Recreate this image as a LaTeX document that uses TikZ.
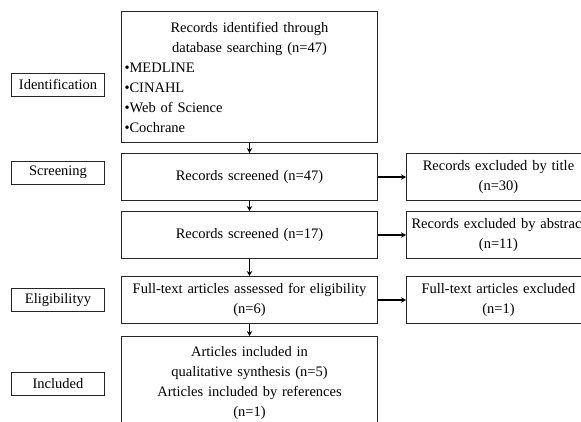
\documentclass[tikz,border=0pt]{standalone}
\usepackage{fontspec}
\setmainfont{Liberation Serif}
\usepackage{tikz}
\usetikzlibrary{arrows.meta, positioning}

\tikzset{
  mainbox/.style={draw=black!85, line width=1pt, text width=250pt, inner xsep=3pt, inner ysep=2pt, minimum height=47pt, align=center, font=\fontsize{14.5}{20}\selectfont},
  sidebox/.style={draw=black!85, line width=1pt, text width=182pt, inner xsep=1pt, inner ysep=2pt, minimum height=47pt, align=center, font=\fontsize{14.5}{20}\selectfont},
  stagebox/.style={draw=black!85, line width=1pt, minimum width=93pt, minimum height=23pt, inner sep=1pt, font=\fontsize{14.5}{16}\selectfont},
  arr/.style={-{Stealth[length=5pt,width=5.5pt]}, line width=1.9pt}
}

\begin{document}
\begin{tikzpicture}[x=1pt, y=1pt, node distance=10pt]
\useasboundingbox (0,0) rectangle (581,-421);

% Main column
\node[mainbox, anchor=north west, minimum height=131pt, align=left] (ident) at (121,-11)
  {{\centering Records identified through\\ database searching (n=47)\par}
   \textbullet MEDLINE\\ \textbullet CINAHL\\ \textbullet Web of Science\\ \textbullet Cochrane};
\node[mainbox, below=10pt of ident] (screen) {Records screened (n=47)};
\node[mainbox, below=10pt of screen] (screenb) {Records screened (n=17)};
\node[mainbox, below=17pt of screenb] (elig) {Full-text articles assessed for eligibility\\ (n=6)};
\node[mainbox, below=12pt of elig, minimum height=94pt] (incl) {Articles included in\\ qualitative synthesis (n=5)\\ Articles included by references\\ (n=1)};

% Exclusions
\node[sidebox, right=28pt of screen] (extitle) {Records excluded by title\\ (n=30)};
\node[sidebox, right=28pt of screenb] (exabs) {Records excluded by abstract\\ (n=11)};
\node[sidebox, right=28pt of elig] (exfull) {Full-text articles excluded\\ (n=1)};

% Stages
\node[stagebox, left=16pt of ident, yshift=-7.5pt] (sident) {Identification};
\node[stagebox, left=16pt of screen, yshift=4.5pt] (sscreen) {Screening};
\node[stagebox, left=16pt of elig] (selig) {Eligibilityy};
\node[stagebox, left=16pt of incl] (sincl) {Included};

% Arrows
\draw[arr] (ident) -- (screen);
\draw[arr] (screen) -- (screenb);
\draw[arr] (screenb) -- (elig);
\draw[arr] (elig) -- (incl);
\draw[arr] (screen) -- (extitle);
\draw[arr] (screenb) -- (exabs);
\draw[arr] (elig) -- (exfull);

\end{tikzpicture}
\end{document}
